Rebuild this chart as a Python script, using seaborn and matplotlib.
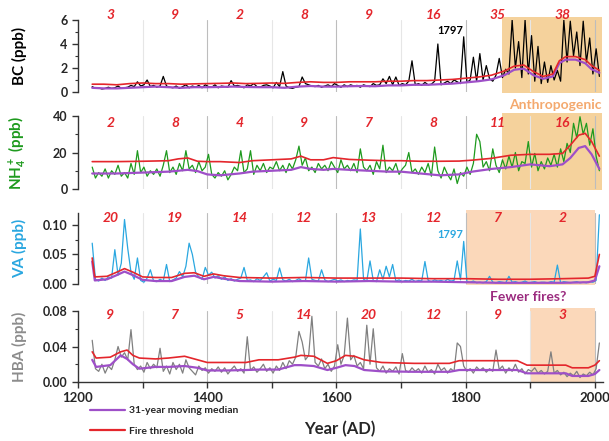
import numpy as np
import matplotlib
matplotlib.use("Agg")
import matplotlib.pyplot as plt
import seaborn as sns
from matplotlib.lines import Line2D
from matplotlib.ticker import MultipleLocator, FormatStrFormatter

sns.set_style("white")
plt.rcParams['font.family'] = ['Lato', 'DejaVu Sans']
plt.rcParams['font.weight'] = 'bold'
plt.rcParams['mathtext.fontset'] = 'custom'
plt.rcParams['mathtext.rm'] = 'Lato:bold'
plt.rcParams['mathtext.bf'] = 'Lato:bold'
plt.rcParams['mathtext.default'] = 'bf'

# raw records, 5-year samples 1222..2007
years = np.arange(1222, 2008, 5)

bc_raw = [0.45, 0.3, 0.35, 0.25, 0.3, 0.4, 0.3, 0.35, 0.5, 0.3, 0.35, 0.4, 0.55, 0.45, 0.85, 0.5, 0.6, 1.0, 0.45, 0.55,
          0.4, 0.5, 1.3, 0.5, 0.4, 0.35, 0.5, 0.3, 0.45, 0.6, 0.35, 0.5, 0.4, 0.55, 0.35, 0.6, 0.45, 0.4, 0.6, 0.35,
          0.5, 0.45, 0.4, 0.95, 0.5, 0.55, 0.45, 0.35, 0.6, 0.5, 0.7, 0.45, 0.4, 0.55, 0.6, 0.5, 0.35, 0.8, 0.45, 1.7,
          0.5, 0.35, 0.3, 0.4, 0.45, 1.25, 0.7, 0.6, 0.5, 0.45, 0.55, 0.4, 0.5, 0.6, 0.45, 0.7, 0.55, 0.4, 0.6, 0.45,
          0.6, 0.5, 0.55, 0.4, 0.6, 0.5, 0.45, 0.7, 0.55, 0.6, 1.1, 0.7, 1.3, 0.6, 1.25, 0.55, 0.7, 0.6, 0.9, 2.6,
          0.6, 0.7, 0.55, 0.8, 0.6, 0.65, 0.9, 4.0, 0.6, 0.75, 0.9, 0.7, 1.0, 0.85, 0.7, 4.6, 0.8, 1.0, 2.9, 0.9,
          3.2, 1.0, 2.2, 1.1, 0.9, 1.4, 2.8, 1.2, 1.9, 1.5, 6.0, 2.0, 4.2, 1.2, 6.0, 1.5, 4.7, 0.9, 3.8, 0.7,
          2.5, 0.8, 2.2, 1.0, 1.8, 0.9, 6.0, 2.5, 5.9, 3.0, 5.0, 2.2, 5.9, 2.5, 4.5, 1.5, 3.6, 1.3]

nh4_raw = [12, 6, 9, 7, 11, 6, 10, 8, 13, 7, 9, 6, 14, 8, 21, 9, 12, 7, 10, 8,
           11, 7, 13, 21, 9, 12, 8, 14, 10, 21, 11, 13, 9, 15, 10, 12, 19, 8, 6, 9,
           7, 10, 5, 8, 12, 10, 21, 9, 11, 21, 8, 13, 10, 14, 9, 12, 11, 15, 10, 13,
           9, 14, 11, 16, 23.5, 13, 17, 10, 12, 9, 14, 11, 13, 10, 15, 12, 9, 16, 11, 13,
           10, 14, 9, 22, 12, 10, 13, 8, 15, 11, 24, 9, 12, 10, 14, 8, 11, 13, 20, 9,
           11, 8, 12, 9, 14, 7, 23, 10, 6, 12, 8, 5, 11, 3, 9, 7, 12, 8, 14, 30,
           26, 12, 15, 10, 22, 13, 9, 16, 11, 18, 12, 20, 10, 15, 14, 26, 12, 19.5, 10, 15,
           11, 17, 13, 19, 12, 22, 15, 25, 20, 36, 28, 39.6, 30, 36, 24, 33, 18, 10]

va_raw = [0.069, 0.008, 0.005, 0.01, 0.006, 0.012, 0.01, 0.058, 0.015, 0.035, 0.109, 0.06, 0.02, 0.008, 0.044, 0.006, 0.003, 0.01, 0.024, 0.005,
          0.004, 0.008, 0.005, 0.033, 0.004, 0.007, 0.01, 0.021, 0.012, 0.03, 0.069, 0.05, 0.02, 0.012, 0.008, 0.028, 0.015, 0.02, 0.01, 0.014,
          0.008, 0.012, 0.006, 0.009, 0.005, 0.008, 0.01, 0.028, 0.006, 0.007, 0.004, 0.009, 0.006, 0.012, 0.019, 0.005, 0.008, 0.006, 0.027, 0.007,
          0.005, 0.008, 0.004, 0.006, 0.009, 0.005, 0.005, 0.044, 0.008, 0.006, 0.005, 0.024, 0.007, 0.004, 0.006, 0.008, 0.005, 0.007, 0.004, 0.006,
          0.005, 0.007, 0.006, 0.093, 0.008, 0.005, 0.039, 0.006, 0.004, 0.024, 0.008, 0.03, 0.012, 0.033, 0.005, 0.007, 0.004, 0.006, 0.005, 0.008,
          0.004, 0.006, 0.005, 0.038, 0.006, 0.004, 0.007, 0.005, 0.006, 0.004, 0.008, 0.005, 0.006, 0.039, 0.007, 0.072, 0.004, 0.003, 0.005, 0.002,
          0.003, 0.002, 0.004, 0.013, 0.003, 0.002, 0.004, 0.003, 0.002, 0.013, 0.003, 0.004, 0.002, 0.003, 0.005, 0.002, 0.003, 0.004, 0.002, 0.003,
          0.003, 0.002, 0.004, 0.003, 0.032, 0.002, 0.004, 0.003, 0.002, 0.003, 0.004, 0.002, 0.003, 0.002, 0.004, 0.003, 0.006, 0.117]

hba_raw = [0.047, 0.015, 0.012, 0.02, 0.01, 0.018, 0.014, 0.025, 0.04, 0.028, 0.033, 0.025, 0.059, 0.02, 0.014, 0.018, 0.011, 0.022, 0.015, 0.02,
           0.016, 0.038, 0.012, 0.018, 0.009, 0.022, 0.014, 0.02, 0.01, 0.025, 0.016, 0.012, 0.008, 0.018, 0.013, 0.016, 0.01, 0.015, 0.012, 0.017,
           0.011, 0.016, 0.009, 0.014, 0.018, 0.012, 0.015, 0.01, 0.051, 0.013, 0.017, 0.011, 0.015, 0.02, 0.012, 0.016, 0.01, 0.018, 0.013, 0.022,
           0.015, 0.024, 0.02, 0.028, 0.057, 0.045, 0.025, 0.03, 0.074, 0.022, 0.018, 0.026, 0.015, 0.02, 0.012, 0.018, 0.042, 0.02, 0.03, 0.072,
           0.025, 0.03, 0.018, 0.022, 0.015, 0.064, 0.02, 0.06, 0.016, 0.012, 0.018, 0.01, 0.015, 0.012, 0.017, 0.009, 0.032, 0.013, 0.011, 0.016,
           0.012, 0.015, 0.01, 0.018, 0.011, 0.014, 0.009, 0.02, 0.013, 0.016, 0.01, 0.015, 0.012, 0.044, 0.04, 0.018, 0.012, 0.015, 0.01, 0.017,
           0.013, 0.016, 0.011, 0.015, 0.012, 0.036, 0.014, 0.018, 0.01, 0.016, 0.012, 0.02, 0.011, 0.015, 0.009, 0.014, 0.012, 0.016, 0.01, 0.013,
           0.009, 0.012, 0.034, 0.01, 0.013, 0.008, 0.011, 0.006, 0.01, 0.007, 0.012, 0.005, 0.009, 0.007, 0.011, 0.008, 0.015, 0.044]

# 31-year moving median and fire threshold (read at coarse steps)
bc_sm_years = [1222, 1240, 1260, 1280, 1300, 1320, 1340, 1360, 1380, 1400, 1420, 1440, 1460, 1480, 1500,
               1520, 1540, 1560, 1580, 1600, 1620, 1640, 1660, 1680, 1700, 1720, 1740, 1760, 1780, 1800,
               1820, 1840, 1860, 1875, 1890, 1905, 1920, 1935, 1945, 1955, 1970, 1985, 1995, 2007]
bc_med = [0.35, 0.3, 0.3, 0.35, 0.4, 0.45, 0.4, 0.35, 0.4, 0.4, 0.42, 0.45, 0.42, 0.4, 0.4,
          0.35, 0.45, 0.5, 0.45, 0.45, 0.48, 0.5, 0.48, 0.55, 0.55, 0.6, 0.6, 0.65, 0.7, 0.8,
          0.9, 1.05, 1.4, 1.85, 1.95, 1.4, 1.1, 1.3, 2.4, 2.7, 2.7, 2.4, 1.9, 1.6]
bc_thr = [0.65, 0.65, 0.6, 0.7, 0.75, 0.7, 0.7, 0.65, 0.68, 0.7, 0.72, 0.75, 0.7, 0.72, 0.75,
          0.72, 0.8, 0.85, 0.8, 0.8, 0.85, 0.85, 0.85, 0.9, 0.9, 0.95, 0.95, 1.0, 1.05, 1.15,
          1.25, 1.4, 1.75, 2.15, 2.25, 1.7, 1.3, 1.5, 2.6, 2.95, 2.95, 2.7, 2.2, 1.8]

nh4_sm_years = [1222, 1260, 1300, 1340, 1355, 1370, 1385, 1400, 1420, 1450, 1470, 1500, 1530, 1545, 1560,
                1580, 1595, 1620, 1650, 1680, 1700, 1730, 1760, 1790, 1810, 1840, 1870, 1900, 1930, 1950,
                1962, 1975, 1985, 1995, 2007]
nh4_med = [8.5, 8.5, 9, 9.5, 10, 10.5, 9.8, 8, 7.5, 8.5, 9.5, 10, 10.5, 12, 11,
           10.5, 11, 10.5, 10, 9.5, 9.5, 8.5, 7.5, 8, 9.5, 11, 12, 13.5, 12.5, 13.5,
           17, 22.5, 23.5, 19, 11]
nh4_thr = [15, 15, 15.2, 15.5, 16.5, 17, 15.2, 15, 15, 14.5, 15.5, 16, 16.5, 18, 16,
           16, 17.2, 16.2, 15.8, 15.5, 15.5, 15.2, 15.2, 15.3, 15.8, 16.8, 18.5, 19, 19, 19.5,
           24, 29.5, 30.5, 26, 18]

va_sm_years = [1222, 1226, 1245, 1260, 1272, 1285, 1300, 1320, 1345, 1365, 1380, 1395, 1410, 1425,
               1450, 1500, 1550, 1600, 1650, 1700, 1750, 1800, 1850, 1900, 1950, 1990, 2000, 2007]
va_med = [0.038, 0.006, 0.008, 0.015, 0.021, 0.015, 0.007, 0.005, 0.005, 0.012, 0.014, 0.008, 0.012, 0.009,
          0.005, 0.004, 0.005, 0.004, 0.005, 0.004, 0.004, 0.003, 0.002, 0.002, 0.002, 0.003, 0.006, 0.03]
va_thr = [0.044, 0.012, 0.013, 0.02, 0.026, 0.02, 0.012, 0.011, 0.011, 0.018, 0.019, 0.013, 0.017, 0.014,
          0.011, 0.01, 0.011, 0.01, 0.01, 0.01, 0.009, 0.009, 0.008, 0.008, 0.009, 0.01, 0.013, 0.05]

hba_sm_years = [1222, 1228, 1250, 1266, 1276, 1285, 1295, 1320, 1340, 1365, 1385, 1400, 1430, 1460, 1480,
                1510, 1535, 1545, 1565, 1586, 1600, 1614, 1628, 1643, 1670, 1720, 1775, 1790, 1840, 1880,
                1895, 1955, 1965, 1990, 2000, 2007]
hba_med = [0.025, 0.017, 0.019, 0.03, 0.026, 0.02, 0.015, 0.017, 0.017, 0.018, 0.016, 0.013, 0.013, 0.0135, 0.014,
           0.014, 0.019, 0.019, 0.018, 0.0135, 0.016, 0.019, 0.018, 0.0135, 0.012, 0.0115, 0.0115, 0.0135, 0.0135, 0.0135,
           0.0098, 0.0098, 0.0068, 0.0068, 0.009, 0.0135]
hba_thr = [0.034, 0.027, 0.028, 0.034, 0.036, 0.03, 0.027, 0.026, 0.027, 0.029, 0.025, 0.022, 0.022, 0.022, 0.025,
           0.025, 0.028, 0.03, 0.029, 0.021, 0.024, 0.03, 0.029, 0.025, 0.022, 0.021, 0.021, 0.024, 0.024, 0.024,
           0.019, 0.019, 0.016, 0.016, 0.019, 0.024]

# number of fire events per century
century_mid = [1250, 1350, 1450, 1550, 1650, 1750, 1850, 1950]
bc_fires = [3, 9, 2, 8, 9, 16, 35, 38]
nh4_fires = [2, 8, 4, 9, 7, 8, 11, 16]
va_fires = [20, 19, 14, 12, 13, 12, 7, 2]
hba_fires = [9, 7, 5, 14, 20, 12, 9, 3]

RED = "#E4262C"
PURPLE = "#9E4FC8"
ANTHRO = "#F5D29C"
PEACH = "#FBD8BA"
W, H = 609, 441

panels = [
    dict(raw=bc_raw, sy=bc_sm_years, med=bc_med, thr=bc_thr, color="black", lcolor="black",
         label="BC (ppb)", lim=(0, 6), major=2, minor=1, fmt="%d", fires=bc_fires, fy=1.07,
         span=(1857, 2011), scol=ANTHRO, top=20, bot=92),
    dict(raw=nh4_raw, sy=nh4_sm_years, med=nh4_med, thr=nh4_thr, color="#1E9A1E", lcolor="#1E9A1E",
         label=r"NH$_4^+$ (ppb)", lim=(0, 40), major=20, minor=10, fmt="%d", fires=nh4_fires, fy=0.90,
         span=(1857, 2011), scol=ANTHRO, top=116, bot=189),
    dict(raw=va_raw, sy=va_sm_years, med=va_med, thr=va_thr, color="#2AA7E0", lcolor="#2AA7E0",
         label="VA (ppb)", lim=(0, 0.12), major=0.05, minor=0.025, fmt="%.2f", fires=va_fires, fy=0.93,
         span=(1800, 2000), scol=PEACH, top=213, bot=284),
    dict(raw=hba_raw, sy=hba_sm_years, med=hba_med, thr=hba_thr, color="#808080", lcolor="#8C8C8C",
         label="HBA (ppb)", lim=(0, 0.08), major=0.04, minor=0.02, fmt="%.2f", fires=hba_fires, fy=0.945,
         span=(1900, 2000), scol=PEACH, top=311, bot=382),
]

fig = plt.figure(figsize=(W / 100, H / 100), dpi=100)
left, right = 78, 602.6
axes = []
for i, p in enumerate(panels):
    ax = fig.add_axes([left / W, 1 - p["bot"] / H, (right - left) / W, (p["bot"] - p["top"]) / H])
    axes.append(ax)
    ax.axvspan(p["span"][0], p["span"][1], ymin=-0.02, ymax=1.04, color=p["scol"], lw=0, zorder=0, clip_on=False)
    for yr in range(1300, 2001, 100):
        ax.axvline(yr, color="#BDBDBD" if yr % 200 == 0 else "#E6E6E6", lw=0.8, zorder=0.5)

    sns.lineplot(x=years, y=p["raw"], ax=ax, color=p["color"], lw=0.9, zorder=2)
    sns.lineplot(x=p["sy"], y=p["med"], ax=ax, color=PURPLE, lw=1.6, zorder=3)
    sns.lineplot(x=p["sy"], y=p["thr"], ax=ax, color=RED, lw=1.2, zorder=4)

    ax.set_xlim(1200, 2012)
    ax.set_ylim(*p["lim"])
    ax.yaxis.set_major_locator(MultipleLocator(p["major"]))
    ax.yaxis.set_minor_locator(MultipleLocator(p["minor"]))
    ax.yaxis.set_major_formatter(FormatStrFormatter(p["fmt"]))
    ax.tick_params(axis="y", which="major", direction="out", length=4, width=1, labelsize=9, left=True, color="#333333")
    ax.tick_params(axis="y", which="minor", direction="out", length=2.5, width=0.8, left=True, color="#333333")
    ax.set_ylabel(p["label"], color=p["lcolor"], fontsize=11, fontweight="bold")
    ax.yaxis.set_label_coords(-0.097, 0.5)
    for s in ["top", "right"]:
        ax.spines[s].set_visible(False)
    ax.spines["left"].set_color("#333333")
    ax.spines["left"].set_linewidth(1)
    if i < 3:
        ax.spines["bottom"].set_visible(False)
        ax.set_xticks([])
    ax.set_xlabel("")

    for x, n in zip(century_mid, p["fires"]):
        ax.text(x, p["fy"], str(n), transform=ax.get_xaxis_transform(), color=RED, fontsize=10,
                fontweight="bold", style="italic", ha="center", va="center", clip_on=False)

ax4 = axes[3]
ax4.spines["bottom"].set_color("#333333")
ax4.spines["bottom"].set_linewidth(1)
ax4.xaxis.set_major_locator(MultipleLocator(200))
ax4.xaxis.set_minor_locator(MultipleLocator(100))
ax4.tick_params(axis="x", which="both", direction="out", length=4, width=1, labelsize=9.5, bottom=True, color="#333333")

axes[0].text(1797, 5.1, "1797", ha="right", va="center", fontsize=8, fontweight="bold", color="black")
axes[2].text(1797, 0.0845, "1797", ha="right", va="center", fontsize=8, fontweight="bold", color="#2AA7E0")

fig.text(602 / W, 1 - 105 / H, "Anthropogenic", ha="right", va="center", color="#F4A96E", fontsize=10, fontweight="bold")
fig.text(528 / W, 1 - 297 / H, "Fewer fires?", ha="center", va="center", color="#9B2B7F", fontsize=10, fontweight="bold")
fig.text(340 / W, 1 - 429 / H, "Year (AD)", ha="center", va="center", fontsize=12, fontweight="bold")

handles = [Line2D([], [], color=PURPLE, lw=1.6), Line2D([], [], color=RED, lw=1.6)]
fig.legend(handles, ["31-year moving median", "Fire threshold"], loc="upper left",
           bbox_to_anchor=(90 / W, 1 - 406 / H), frameon=False, prop={"size": 7.5, "weight": "bold"},
           handlelength=3.4, handletextpad=0.3, labelspacing=1.05, borderpad=0, borderaxespad=0)

fig.savefig("out.png", dpi=100)
